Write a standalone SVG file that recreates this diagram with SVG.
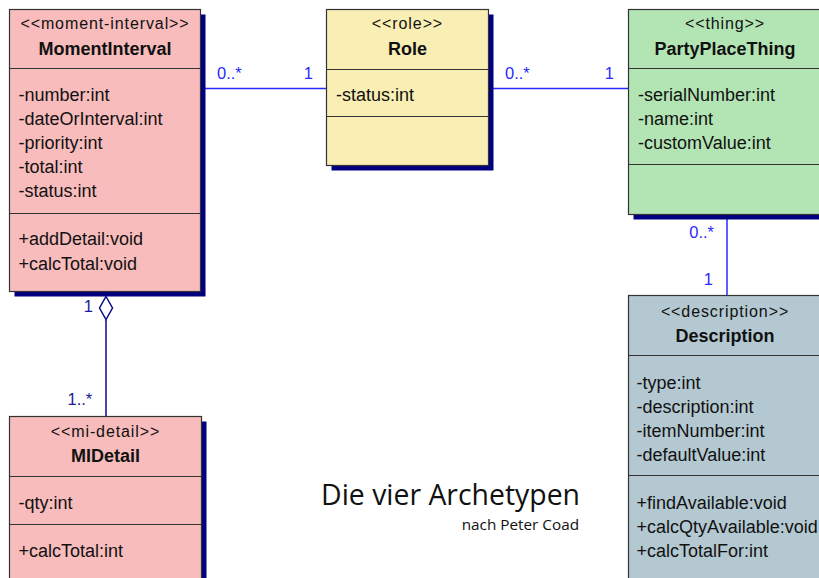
<svg xmlns="http://www.w3.org/2000/svg" width="819" height="578" viewBox="0 0 819 578">
<style>
.box{stroke:#333;stroke-width:1.2}
.sh{fill:#000080}
.div{stroke:#333;stroke-width:1.2}
.st{font-family:"Liberation Sans",Arial,sans-serif;font-size:16px;letter-spacing:0.9px;fill:#111;text-anchor:middle}
.nm{font-family:"Liberation Sans",Arial,sans-serif;font-size:18px;font-weight:bold;fill:#111;text-anchor:middle}
.tx{font-family:"Liberation Sans",Arial,sans-serif;font-size:18px;fill:#111}
.lb{font-family:"Liberation Sans",Arial,sans-serif;font-size:16.5px;fill:#2a2aff}
.lb2{font-family:"Liberation Sans",Arial,sans-serif;font-size:16.5px;fill:#1c1c90}
.cn{stroke:#2a2aff;stroke-width:1.5;fill:none}
.cn2{stroke:#0a0a8c;stroke-width:1.5;fill:none}
.pink{fill:#f8bcbc}
.yel{fill:#f9eeb3}
.grn{fill:#b3e4b4}
.blu{fill:#b4c8d2}
.ttl{font-family:"Open Sans","Liberation Sans",sans-serif;fill:#111;text-anchor:end}
</style>
<rect width="819" height="578" fill="#fff"/>
<g id="connectors">
<line class="cn" x1="200" y1="88.5" x2="326.5" y2="88.5"/>
<line class="cn" x1="488.5" y1="88.5" x2="628.5" y2="88.5"/>
<line class="cn" x1="727" y1="214.5" x2="727" y2="295.5"/>
<line class="cn2" x1="106" y1="319.5" x2="106" y2="416.5"/>
<text class="lb" x="217" y="79">0..*</text>
<text class="lb" x="313" y="79" text-anchor="end">1</text>
<text class="lb" x="505" y="79">0..*</text>
<text class="lb" x="614" y="79" text-anchor="end">1</text>
<text class="lb" x="714" y="238" text-anchor="end">0..*</text>
<text class="lb" x="713" y="285" text-anchor="end">1</text>
<text class="lb2" x="93" y="312" text-anchor="end">1</text>
<text class="lb2" x="67.5" y="405">1..*</text>
</g>
<g id="MomentInterval">
<rect class="sh" x="14.5" y="14.5" width="191" height="282"/>
<rect class="box pink" x="9.5" y="9.5" width="191" height="282"/>
<line class="div" x1="9.5" y1="68.5" x2="200.5" y2="68.5"/>
<line class="div" x1="9.5" y1="213.5" x2="200.5" y2="213.5"/>
<text class="st" x="105" y="29">&lt;&lt;moment-interval&gt;&gt;</text>
<text class="nm" x="105" y="54.5">MomentInterval</text>
<text class="tx" x="18.5" y="100.5">-number:int</text>
<text class="tx" x="18.5" y="124.5">-dateOrInterval:int</text>
<text class="tx" x="18.5" y="148.5">-priority:int</text>
<text class="tx" x="18.5" y="172.5">-total:int</text>
<text class="tx" x="18.5" y="196.5">-status:int</text>
<text class="tx" x="18.5" y="245">+addDetail:void</text>
<text class="tx" x="18.5" y="269.5">+calcTotal:void</text>
</g>
<g id="aggregation">
<polygon class="cn2" points="106,296.5 112.5,308 106,319.5 99.5,308" style="fill:#fff"/>
</g>
<g id="Role">
<rect class="sh" x="331.5" y="14.5" width="162" height="156"/>
<rect class="box yel" x="326.5" y="9.5" width="162" height="156"/>
<line class="div" x1="326.5" y1="69.5" x2="488.5" y2="69.5"/>
<line class="div" x1="326.5" y1="116.5" x2="488.5" y2="116.5"/>
<text class="st" x="407.5" y="29">&lt;&lt;role&gt;&gt;</text>
<text class="nm" x="407.5" y="54.5">Role</text>
<text class="tx" x="336" y="100.5">-status:int</text>
</g>
<g id="PartyPlaceThing">
<rect class="sh" x="633.5" y="14.5" width="195" height="205"/>
<rect class="box grn" x="628.5" y="9.5" width="195" height="205"/>
<line class="div" x1="628.5" y1="68.5" x2="823.5" y2="68.5"/>
<line class="div" x1="628.5" y1="164.5" x2="823.5" y2="164.5"/>
<text class="st" x="725" y="29">&lt;&lt;thing&gt;&gt;</text>
<text class="nm" x="725" y="54.5">PartyPlaceThing</text>
<text class="tx" x="638" y="100.5">-serialNumber:int</text>
<text class="tx" x="638" y="124.5">-name:int</text>
<text class="tx" x="638" y="148.5">-customValue:int</text>
</g>
<g id="Description">
<rect class="box blu" x="628.5" y="295.5" width="195" height="300"/>
<line class="div" x1="628.5" y1="355.5" x2="823.5" y2="355.5"/>
<line class="div" x1="628.5" y1="475.5" x2="823.5" y2="475.5"/>
<text class="st" x="725" y="316.5">&lt;&lt;description&gt;&gt;</text>
<text class="nm" x="725" y="341.5">Description</text>
<text class="tx" x="636.5" y="388.5">-type:int</text>
<text class="tx" x="636.5" y="412.5">-description:int</text>
<text class="tx" x="636.5" y="436.5">-itemNumber:int</text>
<text class="tx" x="636.5" y="460.5">-defaultValue:int</text>
<text class="tx" x="636.5" y="508.5">+findAvailable:void</text>
<text class="tx" x="636.5" y="532.5">+calcQtyAvailable:void</text>
<text class="tx" x="636.5" y="556.5">+calcTotalFor:int</text>
</g>
<g id="MIDetail">
<rect class="sh" x="14.5" y="421.5" width="192" height="200"/>
<rect class="box pink" x="9.5" y="416.5" width="192" height="200"/>
<line class="div" x1="9.5" y1="476.5" x2="201.5" y2="476.5"/>
<line class="div" x1="9.5" y1="524.5" x2="201.5" y2="524.5"/>
<text class="st" x="105.5" y="437">&lt;&lt;mi-detail&gt;&gt;</text>
<text class="nm" x="105.5" y="461.5">MIDetail</text>
<text class="tx" x="18.5" y="508.5">-qty:int</text>
<text class="tx" x="18.5" y="557">+calcTotal:int</text>
</g>
<g id="title">
<text class="ttl" x="580" y="504.5" font-size="28.4">Die vier Archetypen</text>
<text class="ttl" x="579" y="529.5" font-size="15.3">nach Peter Coad</text>
</g>
</svg>
